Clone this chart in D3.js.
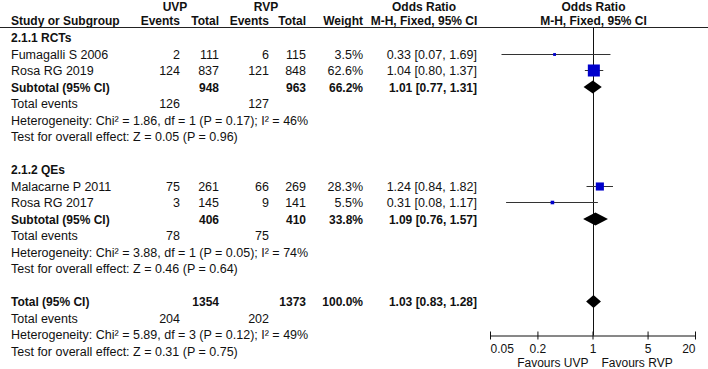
<!DOCTYPE html>
<html>
<head>
<meta charset="utf-8">
<script src="https://cdn.jsdelivr.net/npm/d3@7"></script>
<style>
  body { margin: 0; background: #fff; }
  text { font-family: "Liberation Sans", Arial, sans-serif; fill: #111; }
</style>
</head>
<body>
<svg id="chart" width="708" height="369"></svg>
<script>
// study level data
const studies = ["Fumagalli S 2006", "Rosa RG 2019", "Malacarne P 2011", "Rosa RG 2017"];
const studyGroup = [0, 0, 1, 1];
const uvpEvents = [2, 124, 75, 3];
const uvpTotal = [111, 837, 261, 145];
const rvpEvents = [6, 121, 66, 9];
const rvpTotal = [115, 848, 269, 141];
const weights = [3.5, 62.6, 28.3, 5.5];
const oddsRatio = [0.33, 1.04, 1.24, 0.31];
const ciLow = [0.07, 0.80, 0.84, 0.08];
const ciHigh = [1.69, 1.37, 1.82, 1.17];

// subgroups + overall (last one is the total)
const groups = ["2.1.1 RCTs", "2.1.2 QEs"];
const pooledLabels = ["Subtotal (95% CI)", "Subtotal (95% CI)", "Total (95% CI)"];
const pooledUvpTotal = [948, 406, 1354];
const pooledRvpTotal = [963, 410, 1373];
const pooledWeight = [66.2, 33.8, 100.0];
const pooledOR = [1.01, 1.09, 1.03];
const pooledLow = [0.77, 0.76, 0.83];
const pooledHigh = [1.31, 1.57, 1.28];
const totalEventsUvp = [126, 78, 204];
const totalEventsRvp = [127, 75, 202];
const heterogeneity = [
  "Heterogeneity: Chi\u00b2 = 1.86, df = 1 (P = 0.17); I\u00b2 = 46%",
  "Heterogeneity: Chi\u00b2 = 3.88, df = 1 (P = 0.05); I\u00b2 = 74%",
  "Heterogeneity: Chi\u00b2 = 5.89, df = 3 (P = 0.12); I\u00b2 = 49%"
];
const overallEffect = [
  "Test for overall effect: Z = 0.05 (P = 0.96)",
  "Test for overall effect: Z = 0.46 (P = 0.64)",
  "Test for overall effect: Z = 0.31 (P = 0.75)"
];
const axisTicks = [0.05, 0.2, 1, 5, 20];

const svg = d3.select("#chart");
const fmt2 = d3.format(".2f");
const pct = d => d3.format(".1f")(d) + "%";

// build the row list
const rows = [];
groups.forEach((g, gi) => {
  rows.push({ type: "group", label: g });
  studies.forEach((s, i) => { if (studyGroup[i] === gi) rows.push({ type: "study", i }); });
  rows.push({ type: "pooled", i: gi });
  rows.push({ type: "events", i: gi });
  rows.push({ type: "het", i: gi });
  rows.push({ type: "test", i: gi });
  rows.push({ type: "blank" });
});
rows.push({ type: "pooled", i: 2 });
rows.push({ type: "events", i: 2 });
rows.push({ type: "het", i: 2 });
rows.push({ type: "test", i: 2 });

// row 0 and 1 are headers
const y = d3.scaleLinear().domain([0, 21]).range([4.5, 4.5 + 21 * 16.5]);
const x = d3.scaleLog().domain([0.05, 20]).range([490, 695]);
const x1 = Math.round(x(1)) + 0.5;
const axisY = 335.5;

const col = { name: 11, ue: 180, ut: 219, re: 269, rt: 306, w: 363, ci: 477 };

function txt(xp, yp, s, opts = {}) {
  return svg.append("text")
    .attr("x", xp).attr("y", yp)
    .attr("text-anchor", opts.anchor || "start")
    .style("font-size", opts.bold ? "12px" : "12.5px")
    .style("font-weight", opts.bold ? "bold" : "normal")
    .text(s);
}

// headers
const b0 = 11, b1 = y(1) + 4;
txt(175, b0, "UVP", { bold: true, anchor: "middle" });
txt(266, b0, "RVP", { bold: true, anchor: "middle" });
txt(424, b0, "Odds Ratio", { bold: true, anchor: "middle" });
txt(x1, b0, "Odds Ratio", { bold: true, anchor: "middle" });
txt(col.name, b1, "Study or Subgroup", { bold: true });
txt(col.ue, b1, "Events", { bold: true, anchor: "end" });
txt(col.ut, b1, "Total", { bold: true, anchor: "end" });
txt(col.re, b1, "Events", { bold: true, anchor: "end" });
txt(col.rt, b1, "Total", { bold: true, anchor: "end" });
txt(col.w, b1, "Weight", { bold: true, anchor: "end" });
txt(424, b1, "M-H, Fixed, 95% CI", { bold: true, anchor: "middle" });
txt(x1, b1, "M-H, Fixed, 95% CI", { bold: true, anchor: "middle" });

svg.append("line")
  .attr("x1", 0).attr("x2", 708).attr("y1", 27.5).attr("y2", 27.5)
  .attr("stroke", "#222").attr("stroke-width", 1);

// line of no effect
svg.append("line")
  .attr("x1", x1).attr("x2", x1).attr("y1", 27.5).attr("y2", axisY)
  .attr("stroke", "#111").attr("stroke-width", 1);

rows.forEach((r, k) => {
  const ri = k + 2;
  const cy = y(ri);
  const base = cy + 4.5;
  if (r.type === "group") {
    txt(col.name, base, r.label, { bold: true });
  } else if (r.type === "study") {
    const i = r.i;
    txt(col.name, base, studies[i]);
    txt(col.ue, base, uvpEvents[i], { anchor: "end" });
    txt(col.ut, base, uvpTotal[i], { anchor: "end" });
    txt(col.re, base, rvpEvents[i], { anchor: "end" });
    txt(col.rt, base, rvpTotal[i], { anchor: "end" });
    txt(col.w, base, pct(weights[i]), { anchor: "end" });
    txt(col.ci, base, `${fmt2(oddsRatio[i])} [${fmt2(ciLow[i])}, ${fmt2(ciHigh[i])}]`, { anchor: "end" });
    const ly = Math.round(cy) + 0.5;
    svg.append("line")
      .attr("x1", x(ciLow[i])).attr("x2", x(ciHigh[i]))
      .attr("y1", ly).attr("y2", ly)
      .attr("stroke", "#333").attr("stroke-width", 1);
    const side = Math.max(2, 1.52 * Math.sqrt(weights[i]));
    svg.append("rect")
      .attr("x", x(oddsRatio[i]) - side / 2).attr("y", ly - side / 2)
      .attr("width", side).attr("height", side)
      .attr("fill", "#0000cc");
  } else if (r.type === "pooled") {
    const i = r.i;
    txt(col.name, base, pooledLabels[i], { bold: true });
    txt(col.ut, base, pooledUvpTotal[i], { bold: true, anchor: "end" });
    txt(col.rt, base, pooledRvpTotal[i], { bold: true, anchor: "end" });
    txt(col.w, base, pct(pooledWeight[i]), { bold: true, anchor: "end" });
    txt(col.ci, base, `${fmt2(pooledOR[i])} [${fmt2(pooledLow[i])}, ${fmt2(pooledHigh[i])}]`, { bold: true, anchor: "end" });
    const h = 6.5;
    const pts = [[x(pooledLow[i]), cy], [x(pooledOR[i]), cy - h], [x(pooledHigh[i]), cy], [x(pooledOR[i]), cy + h]];
    svg.append("path")
      .attr("d", d3.line()(pts) + "Z")
      .attr("fill", "#000");
  } else if (r.type === "events") {
    txt(col.name, base, "Total events");
    txt(col.ue, base, totalEventsUvp[r.i], { anchor: "end" });
    txt(col.re, base, totalEventsRvp[r.i], { anchor: "end" });
  } else if (r.type === "het") {
    txt(col.name, base, heterogeneity[r.i]);
  } else if (r.type === "test") {
    txt(col.name, base, overallEffect[r.i]);
  }
});

// axis
const axis = svg.append("g")
  .attr("transform", `translate(0,${axisY})`)
  .call(d3.axisBottom(x).tickValues(axisTicks).tickFormat(d => String(d)).tickSizeOuter(0).tickSize(3));
axis.select(".domain").attr("stroke", "#111");
axis.selectAll(".tick line").attr("y1", -4).attr("y2", 4).attr("stroke", "#111");
axis.selectAll(".tick text")
  .attr("y", 17).attr("dy", null)
  .style("font-size", "12px")
  .style("font-family", "\"Liberation Sans\", Arial, sans-serif")
  .attr("fill", "#111")
  .attr("text-anchor", (d, i) => i === 0 ? "start" : (i === axisTicks.length - 1 ? "end" : "middle"));

svg.append("text").attr("x", x1 - 5).attr("y", 366.5).attr("text-anchor", "end")
  .style("font-size", "12px").text("Favours UVP");
svg.append("text").attr("x", x1 + 8).attr("y", 366.5).attr("text-anchor", "start")
  .style("font-size", "12px").text("Favours RVP");
</script>
</body>
</html>
